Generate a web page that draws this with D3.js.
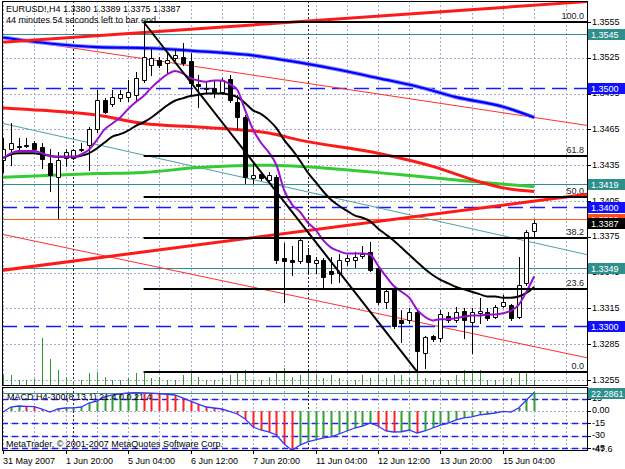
<!DOCTYPE html>
<html><head><meta charset="utf-8">
<script src="https://cdn.jsdelivr.net/npm/d3@7"></script>
<style>
body{margin:0;background:#fff}
svg{display:block}
text{font-family:"Liberation Sans",Arial,sans-serif;font-size:9px}
</style></head>
<body><svg id="c" width="625" height="469"></svg>
<script>
// ---------- DATA ----------
const symbolTitle = "EURUSD!,H4  1.3380 1.3389 1.3375 1.3387";
const timerText = "44 minutes 54 seconds left to bar end";
const macdTitle = "MACD H4-300(8,13,1) 21.4 0.0 21.4";
const copyright = "MetaTrader, \u00A9 2001-2007 MetaQuotes Software Corp.";

const timeTickBars = [0, 8, 16, 24, 32, 40, 48, 56, 64];
const timeTickLabels = ["31 May 2007", "1 Jun 20:00", "5 Jun 04:00", "6 Jun 12:00", "7 Jun 20:00",
  "11 Jun 04:00", "12 Jun 12:00", "13 Jun 20:00", "15 Jun 04:00"];
const separatorBars = [9, 39];
const priceTicks = [1.3555, 1.3525, 1.3495, 1.3465, 1.3435, 1.3405, 1.3375, 1.3345, 1.3315, 1.3285, 1.3255];
const macdTicks = [15, 0, -15, -30, -45];
const macdTickLabels = ["15", "0.00", "-15", "-30", "-45"];
const macdLevels = [15, -15, -30, -45];
const macdMin = -47.6, macdMax = 22.2861;

const open = [1.3439,1.3449,1.3451,1.3452,1.3454,1.3450,1.3437,1.3425,1.3441,1.3441,1.3448,1.3452,1.3465,1.3490,1.3486,1.3491,1.3492,1.3494,1.3506,1.3519,1.3523,1.3521,1.3525,1.3526,1.3522,1.3503,1.3500,1.3500,1.3496,1.3507,1.3488,1.3475,1.3424,1.3428,1.3423,1.3425,1.3357,1.3356,1.3355,1.3360,1.3353,1.3356,1.3346,1.3345,1.3355,1.3356,1.3359,1.3362,1.3349,1.3320,1.3332,1.3305,1.3305,1.3312,1.3278,1.3292,1.3290,1.3309,1.3305,1.3313,1.3304,1.3311,1.3312,1.3308,1.3317,1.3318,1.3308,1.3336,1.3380];
const high = [1.3458,1.3470,1.3458,1.3458,1.3455,1.3454,1.3449,1.3446,1.3449,1.3449,1.3454,1.3467,1.3498,1.3491,1.3498,1.3498,1.3506,1.3513,1.3555,1.3532,1.3526,1.3530,1.3532,1.3537,1.3529,1.3511,1.3505,1.3506,1.3508,1.3511,1.3494,1.3477,1.3437,1.3429,1.3429,1.3427,1.3370,1.3367,1.3373,1.3366,1.3358,1.3357,1.3358,1.3361,1.3360,1.3362,1.3367,1.3371,1.3350,1.3331,1.3333,1.3314,1.3315,1.3313,1.3292,1.3293,1.3314,1.3312,1.3316,1.3315,1.3315,1.3324,1.3315,1.3318,1.3326,1.3319,1.3358,1.3381,1.3389];
const low = [1.3429,1.3435,1.3449,1.3450,1.3448,1.3433,1.3413,1.3391,1.3434,1.3440,1.3447,1.3431,1.3463,1.3479,1.3485,1.3489,1.3489,1.3489,1.3505,1.3511,1.3517,1.3512,1.3523,1.3519,1.3494,1.3484,1.3496,1.3492,1.3495,1.3488,1.3465,1.3420,1.3420,1.3423,1.3421,1.3353,1.3320,1.3343,1.3353,1.3345,1.3345,1.3332,1.3336,1.3337,1.3351,1.3350,1.3357,1.3346,1.3319,1.3315,1.3299,1.3287,1.3303,1.3262,1.3265,1.3288,1.3288,1.3304,1.3304,1.3290,1.3278,1.3303,1.3305,1.3307,1.3316,1.3305,1.3307,1.3335,1.3375];
const close = [1.3449,1.3454,1.3450,1.3451,1.3449,1.3440,1.3427,1.3439,1.3446,1.3448,1.3449,1.3465,1.3490,1.3480,1.3492,1.3495,1.3496,1.3508,1.3526,1.3525,1.3519,1.3523,1.3527,1.3521,1.3504,1.3501,1.3499,1.3496,1.3506,1.3490,1.3475,1.3425,1.3427,1.3424,1.3427,1.3356,1.3355,1.3354,1.3372,1.3354,1.3356,1.3341,1.3344,1.3356,1.3357,1.3358,1.3361,1.3347,1.3320,1.3330,1.3300,1.3303,1.3312,1.3279,1.3291,1.3289,1.3310,1.3305,1.3312,1.3305,1.3312,1.3313,1.3307,1.3316,1.3320,1.3307,1.3335,1.3379,1.3387];
const volume = [1000,1000,500,500,600,4700,2600,1500,800,400,500,1200,1300,800,500,500,700,1200,1300,700,800,500,500,1000,1300,800,500,500,700,1000,1200,1500,500,500,800,1200,1700,800,1000,1200,1000,700,1000,700,500,500,1000,700,1000,700,1000,1000,700,1300,700,500,700,500,1000,1500,1200,1500,500,500,700,700,1200,1200,500];

const maFast = [1.3441,1.3445,1.3447,1.3447,1.3447,1.3445,1.3443,1.3442,1.3442,1.3442,1.3444,1.3448,1.3456,1.3465,1.3470,1.3475,1.3482,1.3488,1.3493,1.3500,1.3506,1.3511,1.3514,1.3512,1.3508,1.3506,1.3505,1.3506,1.3506,1.3503,1.3498,1.3481,1.3465,1.3454,1.3446,1.3435,1.3414,1.3402,1.3396,1.3387,1.3381,1.3372,1.3366,1.3363,1.3361,1.3361,1.3361,1.3360,1.3351,1.3342,1.3334,1.3329,1.3324,1.3314,1.3308,1.3305,1.3306,1.3306,1.3307,1.3308,1.3309,1.3309,1.3310,1.3310,1.3311,1.3313,1.3318,1.3329,1.3342];
const maMid = [1.3441,1.3444,1.3445,1.3445,1.3445,1.3444,1.3443,1.3442,1.3442,1.3442,1.3443,1.3445,1.3449,1.3454,1.3459,1.3461,1.3464,1.3468,1.3471,1.3475,1.3480,1.3485,1.3489,1.3491,1.3493,1.3494,1.3495,1.3495,1.3495,1.3494,1.3492,1.3487,1.3481,1.3478,1.3473,1.3466,1.3456,1.3448,1.3439,1.3429,1.3421,1.3413,1.3406,1.3401,1.3397,1.3393,1.3391,1.3388,1.3382,1.3377,1.3372,1.3366,1.3360,1.3354,1.3348,1.3343,1.3339,1.3336,1.3333,1.3331,1.3329,1.3327,1.3325,1.3325,1.3324,1.3324,1.3325,1.3328,1.3333];

const blueMaBars = [0,6,12,19,24,32,38,43,48,53,58,64,68];
const blueMa = [1.3542,1.3537,1.3534,1.3533,1.3531,1.3527,1.3521,1.3515,1.3508,1.3501,1.3492,1.3484,1.3475];
const redMaBars = [0,5,12,18,25,34,38,48,55,61,64,68];
const redMa = [1.3483,1.3481,1.3477,1.3470,1.3467,1.3462,1.3456,1.3445,1.3434,1.3421,1.3416,1.3413];
const greenMaBars = [0,12,18,25,34,38,51,59,68];
const greenMa = [1.3425,1.3428,1.3429,1.3433,1.3435,1.3434,1.3427,1.3422,1.3417];

const macd = [-1.2,4.8,6.0,5.6,5.2,2.4,-1.2,2.4,3.6,3.8,4.8,9.6,12.0,16.9,19.3,20.5,21.7,22.0,21.9,21.5,20.8,20.2,19.3,15.7,12.0,8.4,4.8,3.6,2.4,-0.5,-3.6,-9.6,-19.3,-22.9,-25.3,-28.9,-39.8,-47.6,-41.0,-37.3,-34.9,-32.5,-31.3,-27.7,-24.1,-20.5,-18.1,-14.5,-18.1,-24.1,-25.3,-25.0,-22.9,-26.5,-24.1,-20.5,-16.9,-14.5,-10.8,-8.4,-7.2,-4.8,-3.6,-2.4,-0.5,-1.2,3.6,13.3,22.2861];

// trend lines: [bar1, price1, bar2, price2]
const riseUpper = [0, 1.3538, 68, 1.3569];
const riseLower = [0, 1.3347, 68, 1.3405];
const fallUpper = [0, 1.3542, 68, 1.3475];
const fallLower = [0, 1.3377, 68, 1.3283];
const fallTeal  = [0, 1.3470, 68, 1.3370];

const fibHighBar = 18, fibHigh = 1.3555, fibLowBar = 53, fibLow = 1.3262;
const fibLevels = [0, 23.6, 38.2, 50.0, 61.8, 100.0];

const tealLevels = [1.3545, 1.3419, 1.3349];
const blueLevels = [1.3500, 1.3400, 1.3300];
const orangeLevel = 1.3390;
const lastClose = 1.3387;

// ---------- DRAW ----------
const svg = d3.select("#c");
const L = 2, R = 587, T = 1, B = 385, MT = 387, MB = 450;
const x = d3.scaleLinear().domain([0, 68]).range([3, 3 + 68 * 7.8125]);
const y = d3.scaleLinear().domain([1.3255, 1.3555]).range([22 + 300 * 1.1935, 22]);
const ym = d3.scaleLinear().domain([macdMin, macdMax]).range([450.5, 392.5]);
const yv = d3.scaleLinear().domain([0, 5000]).range([B, B - 50]);
const px = v => Math.round(v) + 0.5;
const barAt = xx => x.invert(xx);

const defs = svg.append("defs");
defs.append("clipPath").attr("id", "cm").append("rect").attr("x", L).attr("y", T).attr("width", R - L).attr("height", B - T);
defs.append("clipPath").attr("id", "cd").append("rect").attr("x", L).attr("y", MT).attr("width", R - L).attr("height", MB - MT);

svg.append("rect").attr("width", 625).attr("height", 469).attr("fill", "#fff");

const gm = svg.append("g").attr("clip-path", "url(#cm)");
const gd = svg.append("g").attr("clip-path", "url(#cd)");

const gridColor = "#a9a9d2";
const gridBars = d3.range(0, 76, 4);
// vertical grid
[gm, gd].forEach((g, k) => {
  g.selectAll("line.vg").data(gridBars).join("line").attr("class", "vg")
    .attr("x1", d => px(x(d))).attr("x2", d => px(x(d)))
    .attr("y1", k ? MT : T).attr("y2", k ? MB : B)
    .attr("stroke", gridColor).attr("stroke-dasharray", "2,2");
  g.selectAll("line.sep").data(separatorBars).join("line").attr("class", "sep")
    .attr("x1", d => px(x(d))).attr("x2", d => px(x(d)))
    .attr("y1", k ? MT : T).attr("y2", k ? MB : B)
    .attr("stroke", "#222").attr("stroke-dasharray", "2,2");
});
gm.selectAll("line.hg").data(priceTicks).join("line").attr("class", "hg")
  .attr("x1", L).attr("x2", R).attr("y1", d => px(y(d))).attr("y2", d => px(y(d)))
  .attr("stroke", gridColor).attr("stroke-dasharray", "2,2");
gd.selectAll("line.hg").data(macdTicks).join("line").attr("class", "hg")
  .attr("x1", L).attr("x2", R).attr("y1", d => px(ym(d))).attr("y2", d => px(ym(d)))
  .attr("stroke", gridColor).attr("stroke-dasharray", "2,2");

// volumes
gm.selectAll("line.vol").data(volume).join("line").attr("class", "vol")
  .attr("x1", (d, i) => px(x(i))).attr("x2", (d, i) => px(x(i)))
  .attr("y1", B).attr("y2", d => yv(d)).attr("stroke", "#2e9a2e").attr("stroke-width", 1);

// horizontal levels
gm.selectAll("line.teal").data(tealLevels).join("line")
  .attr("x1", L).attr("x2", R).attr("y1", d => px(y(d))).attr("y2", d => px(y(d)))
  .attr("stroke", "#2f8f8c").attr("stroke-width", 1);
gm.selectAll("line.blue").data(blueLevels).join("line")
  .attr("x1", L).attr("x2", R).attr("y1", d => px(y(d))).attr("y2", d => px(y(d)))
  .attr("stroke", "#1a1aff").attr("stroke-width", 1.5).attr("stroke-dasharray", "15,7");
gm.append("line").attr("x1", L).attr("x2", R).attr("y1", px(y(orangeLevel))).attr("y2", px(y(orangeLevel)))
  .attr("stroke", "#ff5a1e").attr("stroke-width", 1);

// trend lines (rays extended to right edge)
function ray(t, color, w) {
  const [b1, p1, b2, p2] = t;
  const slope = (p2 - p1) / (b2 - b1);
  const bEnd = barAt(R + 5);
  gm.append("line").attr("x1", x(b1) - 2).attr("y1", y(p1 - slope * (2 / 7.8125)))
    .attr("x2", x(bEnd)).attr("y2", y(p1 + slope * (bEnd - b1)))
    .attr("stroke", color).attr("stroke-width", w);
}
ray(fallTeal, "#4aa3a3", 1);
ray(fallUpper, "#ff3030", 1);
ray(fallLower, "#ff3030", 1);

// long moving averages
const lineGen = (bars, vals) => d3.line().x((d, i) => x(bars[i])).y(d => y(d)).curve(d3.curveMonotoneX)(vals);
gm.append("path").attr("d", lineGen(greenMaBars, greenMa)).attr("fill", "none").attr("stroke", "#33cc33").attr("stroke-width", 3);
gm.append("path").attr("d", lineGen(redMaBars, redMa)).attr("fill", "none").attr("stroke", "#ff1a1a").attr("stroke-width", 3);
gm.append("path").attr("d", lineGen(blueMaBars, blueMa)).attr("fill", "none").attr("stroke", "#8a8aff").attr("stroke-width", 4);
gm.append("path").attr("d", lineGen(blueMaBars, blueMa)).attr("fill", "none").attr("stroke", "#0000ff").attr("stroke-width", 2.2);
ray(riseUpper, "#ff1a1a", 3);
ray(riseLower, "#ff1a1a", 3);

// candles
const idx = d3.range(open.length);
const gc = gm.append("g");
gc.selectAll("line.wick").data(idx).join("line")
  .attr("x1", i => px(x(i))).attr("x2", i => px(x(i)))
  .attr("y1", i => Math.round(y(high[i]))).attr("y2", i => Math.round(y(low[i])) + 1)
  .attr("stroke", "#000");
gc.selectAll("path.body").data(idx).join("path")
  .attr("d", i => {
    const cx = Math.round(x(i));
    const t = Math.round(y(Math.max(open[i], close[i]))) + 0.5;
    const b = Math.round(y(Math.min(open[i], close[i]))) + 0.5;
    return `M${cx - 1.5},${t}H${cx + 2.5}V${b}H${cx - 1.5}Z`;
  })
  .attr("fill", i => close[i] >= open[i] ? "#fff" : "#000").attr("stroke", "#000");

// short moving averages
const perBar = vals => d3.line().x((d, i) => x(i)).y(d => y(d)).curve(d3.curveMonotoneX)(vals);
gm.append("path").attr("d", perBar(maMid)).attr("fill", "none").attr("stroke", "#000").attr("stroke-width", 2);
gm.append("path").attr("d", perBar(maFast)).attr("fill", "none").attr("stroke", "#9a10d0").attr("stroke-width", 2);

// fibonacci
gm.append("line").attr("x1", x(fibHighBar)).attr("y1", y(fibHigh)).attr("x2", x(fibLowBar)).attr("y2", y(fibLow))
  .attr("stroke", "#000").attr("stroke-width", 2);
const fibPrice = l => fibLow + (fibHigh - fibLow) * l / 100;
gm.selectAll("line.fib").data(fibLevels).join("line")
  .attr("x1", x(fibHighBar)).attr("x2", R)
  .attr("y1", d => Math.round(y(fibPrice(d)))).attr("y2", d => Math.round(y(fibPrice(d))))
  .attr("stroke", "#000").attr("stroke-width", 2);
gm.selectAll("text.fib").data(fibLevels).join("text")
  .attr("x", 584).attr("y", d => Math.round(y(fibPrice(d))) - 3).attr("text-anchor", "end")
  .attr("fill", "#222").text(d => d.toFixed(1));

// MACD
gd.append("line").attr("x1", L).attr("x2", R).attr("y1", px(ym(macdMax))).attr("y2", px(ym(macdMax)))
  .attr("stroke", "#2f8f8c");
gd.selectAll("line.lv").data(macdLevels).join("line")
  .attr("x1", L).attr("x2", R).attr("y1", d => px(ym(d))).attr("y2", d => px(ym(d)))
  .attr("stroke", "#2020ff").attr("stroke-width", 1.3).attr("stroke-dasharray", "6,4");
gd.selectAll("line.hist").data(macd).join("line")
  .attr("x1", (d, i) => px(x(i))).attr("x2", (d, i) => px(x(i)))
  .attr("y1", ym(0)).attr("y2", d => ym(d))
  .attr("stroke", (d, i) => (i === 0 || d >= macd[i - 1]) ? "#2ea02e" : "#ff2020").attr("stroke-width", 2);
gd.append("path").attr("d", d3.line().x((d, i) => x(i)).y(d => ym(d))(macd))
  .attr("fill", "none").attr("stroke", "#3535ff").attr("stroke-width", 1.3);

// texts in panels
svg.append("text").attr("x", 6).attr("y", 12).text(symbolTitle);
svg.append("text").attr("x", 6).attr("y", 23).text(timerText);
svg.append("text").attr("x", 7).attr("y", 400).text(macdTitle);
svg.append("text").attr("x", 6).attr("y", 447).text(copyright);

// frames
svg.append("rect").attr("x", L + 0.5).attr("y", T + 0.5).attr("width", R - L).attr("height", B - T).attr("fill", "none").attr("stroke", "#000");
svg.append("rect").attr("x", L + 0.5).attr("y", MT + 0.5).attr("width", R - L).attr("height", MB - MT).attr("fill", "none").attr("stroke", "#000");

// right price axis
svg.selectAll("line.pt").data(priceTicks).join("line")
  .attr("x1", R).attr("x2", R + 4).attr("y1", d => px(y(d))).attr("y2", d => px(y(d))).attr("stroke", "#000");
svg.selectAll("text.pt").data(priceTicks).join("text")
  .attr("x", 592).attr("y", d => y(d) + 2.5).text(d => d.toFixed(4));
svg.selectAll("line.mt").data(macdTicks).join("line")
  .attr("x1", R).attr("x2", R + 4).attr("y1", d => px(ym(d))).attr("y2", d => px(ym(d))).attr("stroke", "#000");
svg.selectAll("text.mt").data(macdTicks).join("text")
  .attr("x", 592).attr("y", d => ym(d) + 2.5).text((d, i) => macdTickLabels[i]);
svg.append("text").attr("x", 592).attr("y", ym(macdMin) + 1).text(macdMin.toFixed(1));

function tag(v, scale, txt, bg) {
  const yy = Math.round(scale(v));
  svg.append("rect").attr("x", 588).attr("y", yy - 5).attr("width", 37).attr("height", 11).attr("fill", bg);
  svg.append("text").attr("x", 591).attr("y", yy + 3.5).attr("fill", "#fff").text(txt);
}
tealLevels.forEach(v => tag(v, y, v.toFixed(4), "#2f8f8c"));
blueLevels.forEach(v => tag(v, y, v.toFixed(4), "#1010ff"));
tag(orangeLevel, y, orangeLevel.toFixed(4), "#ff4a1a");
tag(lastClose, y, lastClose.toFixed(4), "#000");
tag(macdMax, ym, macdMax.toFixed(4), "#2f8f8c");

// time axis
svg.selectAll("line.tt").data(timeTickBars).join("line")
  .attr("x1", d => px(x(d))).attr("x2", d => px(x(d))).attr("y1", MB).attr("y2", MB + 4).attr("stroke", "#000");
svg.selectAll("text.tt").data(timeTickBars).join("text")
  .attr("x", d => Math.round(x(d))).attr("y", 464).text((d, i) => timeTickLabels[i]);
</script>
</body></html>
